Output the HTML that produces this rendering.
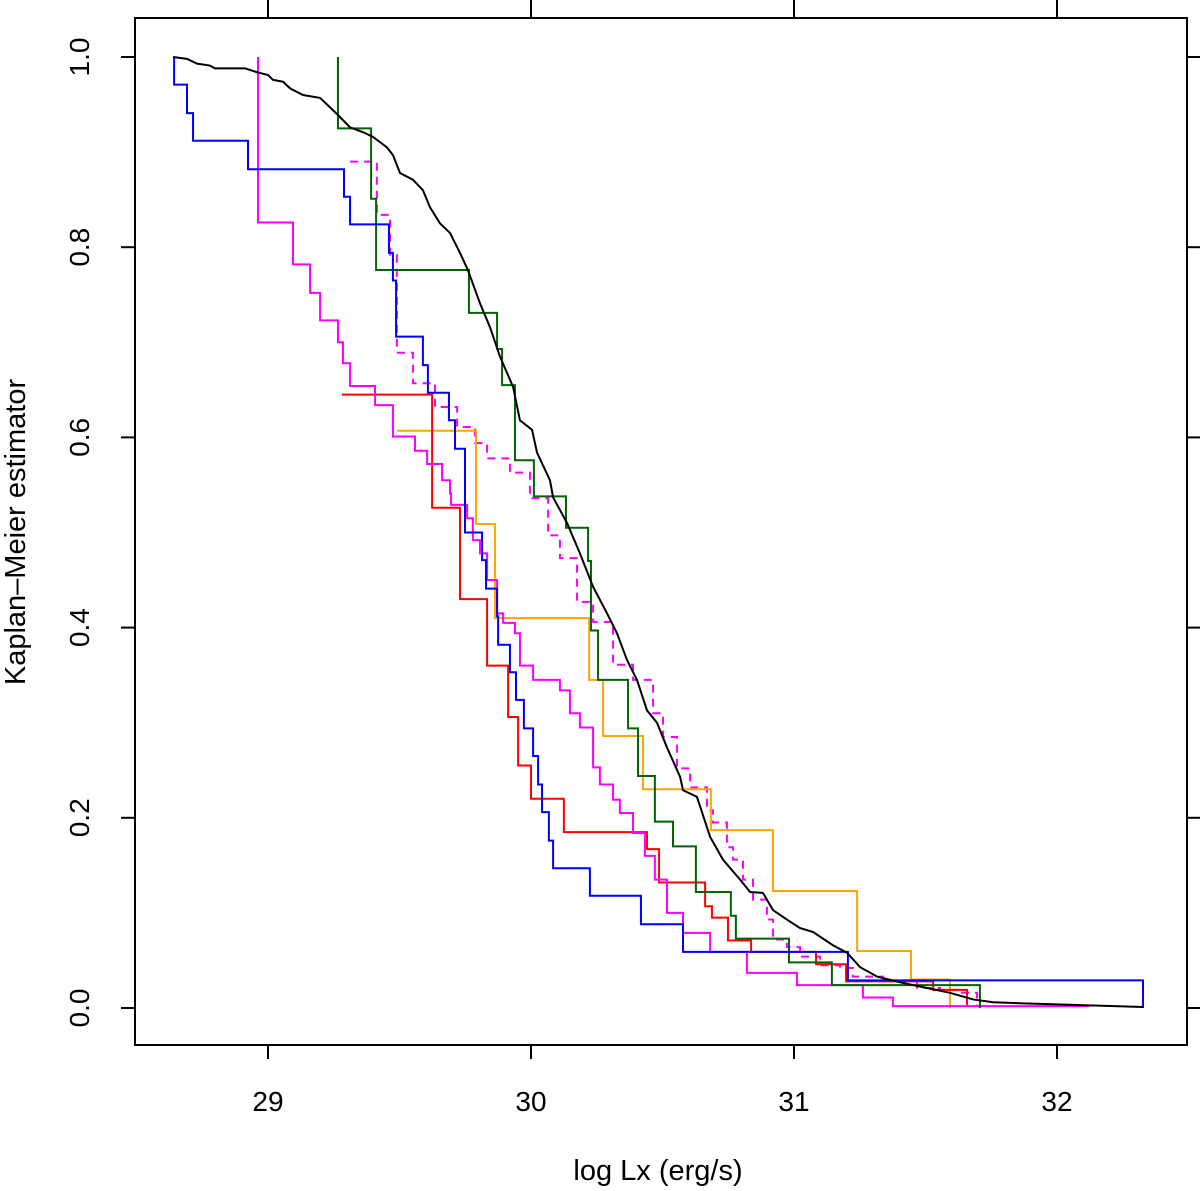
<!DOCTYPE html>
<html><head><meta charset="utf-8"><style>
html,body{margin:0;padding:0;background:#fff}
svg{display:block}
text{font-family:"Liberation Sans",sans-serif;fill:#000}
</style></head><body>
<svg id="chart" width="1200" height="1191" viewBox="0 0 1200 1191" xmlns="http://www.w3.org/2000/svg">
<g id="axes"></g>
<g id="series"></g>
<text x="658" y="1180" font-size="29" text-anchor="middle">log Lx (erg/s)</text>
<text transform="translate(25,532) rotate(-90)" font-size="29" text-anchor="middle">Kaplan–Meier estimator</text>
</svg>
<script>
const xTicks=[29,30,31,32];
const yTicks=[0,0.2,0.4,0.6,0.8,1.0];
const yTickLabels=["0.0","0.2","0.4","0.6","0.8","1.0"];

const blackX=[28.639,28.692,28.730,28.779,28.798,28.913,28.958,29.000,29.019,29.057,29.084,29.133,29.198,29.236,29.266,29.312,29.361,29.399,29.452,29.475,29.502,29.551,29.589,29.616,29.654,29.692,29.730,29.760,29.806,29.844,29.882,29.932,29.958,30.004,30.023,30.072,30.084,30.137,30.186,30.236,30.289,30.327,30.365,30.403,30.441,30.479,30.517,30.567,30.578,30.631,30.681,30.730,30.795,30.833,30.882,30.920,30.973,31.023,31.072,31.148,31.202,31.251,31.316,31.403,31.506,31.593,31.681,31.757,31.859,32.327];
const blackY=[1.000,0.998,0.993,0.991,0.988,0.988,0.984,0.981,0.976,0.974,0.967,0.960,0.957,0.947,0.939,0.926,0.921,0.916,0.905,0.897,0.878,0.871,0.860,0.842,0.825,0.815,0.794,0.776,0.741,0.716,0.685,0.653,0.618,0.608,0.584,0.555,0.537,0.510,0.478,0.443,0.415,0.394,0.366,0.345,0.313,0.300,0.274,0.243,0.229,0.222,0.180,0.156,0.135,0.122,0.121,0.103,0.093,0.084,0.080,0.066,0.058,0.043,0.033,0.027,0.021,0.016,0.009,0.006,0.005,0.001];

const blueStart=[28.643,1.0];
const blueX=[28.643,28.692,28.715,28.924,29.289,29.312,29.460,29.475,29.487,29.589,29.608,29.688,29.711,29.749,29.814,29.829,29.871,29.875,29.920,29.943,29.973,30.008,30.027,30.042,30.068,30.084,30.224,30.418,30.578,31.205,32.327];
const blueY=[0.971,0.941,0.912,0.882,0.853,0.824,0.794,0.765,0.706,0.676,0.647,0.618,0.588,0.500,0.471,0.441,0.412,0.382,0.353,0.324,0.294,0.265,0.235,0.206,0.176,0.147,0.118,0.088,0.059,0.029,0.0];

const magentaStart=[28.962,1.0];
const magentaX=[28.962,29.095,29.160,29.198,29.266,29.285,29.312,29.407,29.475,29.559,29.605,29.662,29.692,29.696,29.757,29.779,29.806,29.833,29.871,29.894,29.939,29.958,30.008,30.110,30.148,30.186,30.236,30.262,30.312,30.338,30.388,30.433,30.471,30.517,30.578,30.681,30.821,31.011,31.262,31.376,32.125];
const magentaY=[0.826,0.782,0.752,0.723,0.700,0.678,0.654,0.634,0.601,0.586,0.572,0.555,0.541,0.529,0.515,0.492,0.478,0.450,0.415,0.405,0.394,0.360,0.345,0.334,0.310,0.295,0.253,0.235,0.219,0.205,0.184,0.160,0.135,0.100,0.079,0.059,0.037,0.024,0.011,0.002,0.002];

const dashedStart=[29.312,0.890];
const dashedX=[29.414,29.464,29.490,29.551,29.635,29.719,29.787,29.833,29.920,29.996,30.065,30.110,30.175,30.236,30.312,30.388,30.464,30.502,30.555,30.605,30.669,30.692,30.745,30.768,30.806,30.844,30.897,30.920,30.973,31.023,31.099,31.175,31.224,31.338,31.468,31.555,31.631,31.696];
const dashedY=[0.834,0.792,0.689,0.657,0.632,0.611,0.594,0.578,0.563,0.536,0.497,0.473,0.427,0.406,0.361,0.345,0.310,0.285,0.252,0.232,0.208,0.195,0.169,0.156,0.135,0.114,0.093,0.072,0.064,0.054,0.045,0.042,0.033,0.029,0.021,0.019,0.016,0.001];

const greenStart=[29.266,1.0];
const greenX=[29.266,29.392,29.411,29.764,29.871,29.890,29.939,30.011,30.133,30.217,30.228,30.255,30.369,30.407,30.471,30.540,30.627,30.760,30.779,30.981,31.144,31.707];
const greenY=[0.925,0.851,0.776,0.731,0.693,0.655,0.576,0.538,0.505,0.470,0.397,0.345,0.294,0.244,0.196,0.170,0.122,0.097,0.073,0.048,0.024,0.0];

const redStart=[29.281,0.645];
const redX=[29.624,29.730,29.833,29.913,29.951,30.000,30.125,30.441,30.487,30.662,30.688,30.749,30.837,31.084,31.198,31.529,31.658];
const redY=[0.526,0.430,0.360,0.306,0.255,0.220,0.185,0.167,0.132,0.107,0.095,0.071,0.059,0.046,0.028,0.019,0.003];

const orangeStart=[29.490,0.607];
const orangeX=[29.791,29.863,30.221,30.274,30.426,30.684,30.920,31.240,31.445,31.593];
const orangeY=[0.509,0.410,0.345,0.286,0.230,0.187,0.123,0.060,0.030,0.0];

const NS="http://www.w3.org/2000/svg";
const L=135,R=1187,T=18,B=1045;
function sx(v){return 268+(v-29)*263;}
function sy(v){return 1008-v*951;}
function mk(tag,attrs,parent){const e=document.createElementNS(NS,tag);for(const k in attrs)e.setAttribute(k,attrs[k]);parent.appendChild(e);return e;}
const axes=document.getElementById('axes');
const frame=mk('rect',{x:L,y:T,width:R-L,height:B-T,fill:'none',stroke:'#000','stroke-width':2},axes);


xTicks.forEach(v=>{
  const x=sx(v);
  const t=mk('line',{x1:x,x2:x,y1:B,y2:B+14,stroke:'#000','stroke-width':2},axes);
  
  
  const t2=mk('line',{x1:x,x2:x,y1:0,y2:T,stroke:'#000','stroke-width':2},axes);
  
  
  const lb=mk('text',{x:x,y:1111,'font-size':28,'text-anchor':'middle'},axes);
  lb.textContent=String(v);
  
  
});
yTicks.forEach((v,i)=>{
  const y=sy(v);
  const t=mk('line',{x1:L-14,x2:L,y1:y,y2:y,stroke:'#000','stroke-width':2},axes);
  
  
  const t2=mk('line',{x1:R,x2:1200,y1:y,y2:y,stroke:'#000','stroke-width':2},axes);
  
  
  const lb=mk('text',{transform:`translate(89,${y}) rotate(-90)`,'font-size':28,'text-anchor':'middle'},axes);
  lb.textContent=yTickLabels[i];
  
  
});
const series=document.getElementById('series');
function stepPath(start,xs,ys){
  let d=`M${sx(start[0])},${sy(start[1])}`;let cy=start[1];
  for(let i=0;i<xs.length;i++){d+=` L${sx(xs[i])},${sy(cy)} L${sx(xs[i])},${sy(ys[i])}`;cy=ys[i];}
  return d;
}
function addStep(name,start,xs,ys,color,dash){
  const p=mk('path',{d:stepPath(start,xs,ys),fill:'none',stroke:color,'stroke-width':2},series);
  if(dash)p.setAttribute('stroke-dasharray',dash);
  
  
}
addStep('km-curve-magenta-dashed',dashedStart,dashedX,dashedY,'#ff00ff','8,6');
addStep('km-curve-orange',orangeStart,orangeX,orangeY,'#ffa500');
addStep('km-curve-red',redStart,redX,redY,'#ff0000');
addStep('km-curve-magenta',magentaStart,magentaX,magentaY,'#ff00ff');
addStep('km-curve-green',greenStart,greenX,greenY,'#006400');
addStep('km-curve-blue',blueStart,blueX,blueY,'#0000ff');
let bd='';
for(let i=0;i<blackX.length;i++){bd+=(i?' L':'M')+sx(blackX[i])+','+sy(blackY[i]);}
const bp=mk('path',{d:bd,fill:'none',stroke:'#000','stroke-width':2},series);


</script>
</body></html>
